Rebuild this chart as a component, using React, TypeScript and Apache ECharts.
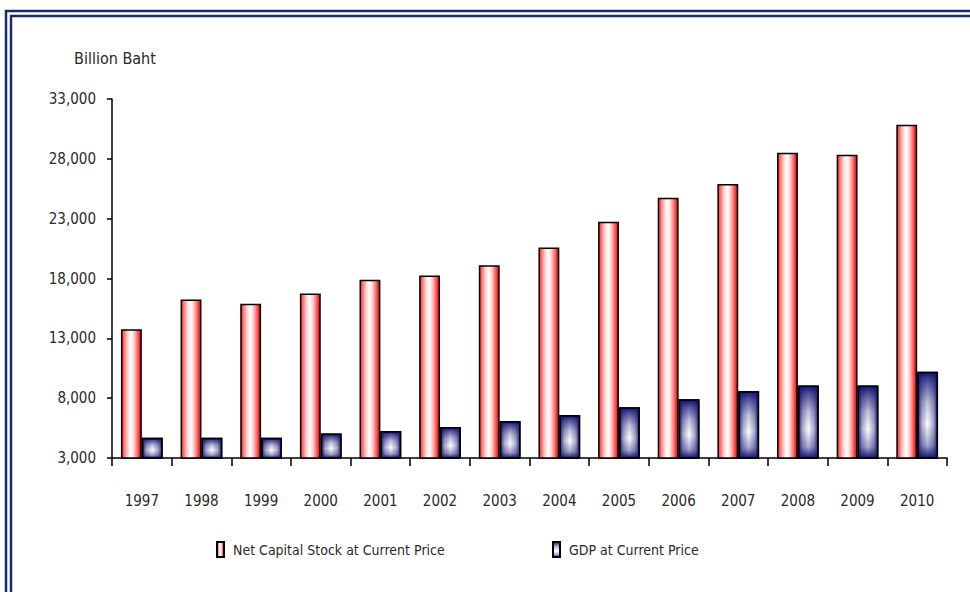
import React, { useEffect, useRef } from "react";
import * as echarts from "echarts";

const years = ["1997","1998","1999","2000","2001","2002","2003","2004","2005","2006","2007","2008","2009","2010"];
const netCapitalStock = [13750, 16250, 15900, 16750, 17900, 18250, 19100, 20600, 22750, 24750, 25900, 28500, 28350, 30850];
const gdp = [4700, 4700, 4700, 5050, 5250, 5600, 6100, 6600, 7250, 7900, 8600, 9050, 9050, 10200];
const yMin = 3000;
const yMax = 33000;
const yStep = 5000;
const unitLabel = "Billion Baht";
const seriesNames = ["Net Capital Stock at Current Price", "GDP at Current Price"];

const FONT = "'DejaVu Sans Condensed', 'Liberation Sans Narrow', sans-serif";
const NAVY = "#1b2a6b";

export default function App() {
  const ref = useRef<HTMLDivElement>(null);
  useEffect(() => {
    if (!ref.current) return;
    const chart = echarts.init(ref.current, null, { renderer: "svg" });
    const redGrad = new echarts.graphic.LinearGradient(0, 0, 1, 0, [
      { offset: 0, color: "#ff2a2a" },
      { offset: 0.15, color: "#ff8080" },
      { offset: 0.33, color: "#ffdcdc" },
      { offset: 0.48, color: "#ffffff" },
      { offset: 0.62, color: "#ffd6d6" },
      { offset: 0.8, color: "#ff7070" },
      { offset: 1, color: "#dd0000" },
    ]);
    const blueGrad = new echarts.graphic.LinearGradient(0, 0, 0, 1, [
      { offset: 0, color: "#14147a" },
      { offset: 0.12, color: "#5a5a9e" },
      { offset: 0.35, color: "#c4c4dc" },
      { offset: 0.6, color: "#ffffff" },
      { offset: 0.85, color: "#a8a8cc" },
      { offset: 1, color: "#14147a" },
    ]);
    const blueOverlay = new echarts.graphic.LinearGradient(0, 0, 1, 0, [
      { offset: 0, color: "rgba(16,16,112,0.9)" },
      { offset: 0.2, color: "rgba(16,16,112,0.35)" },
      { offset: 0.5, color: "rgba(16,16,112,0)" },
      { offset: 0.8, color: "rgba(16,16,112,0.35)" },
      { offset: 1, color: "rgba(16,16,112,0.9)" },
    ]);
    const axisText = { fontFamily: FONT, fontSize: 15, color: "#2a2a2a" };
    const legendText = { fontFamily: FONT, fontSize: 14, color: "#2a2a2a" };
    chart.setOption({
      animation: false,
      backgroundColor: "#ffffff",
      textStyle: { fontFamily: FONT },
      graphic: [
        { type: "rect", shape: { x: 6, y: 11, width: 1200, height: 1200 }, style: { fill: "none", stroke: NAVY, lineWidth: 2.5 }, silent: true },
        { type: "rect", shape: { x: 11, y: 16, width: 1200, height: 1200 }, style: { fill: "none", stroke: NAVY, lineWidth: 2.5 }, silent: true },
        { type: "text", left: 74, top: 50, style: { text: unitLabel, fontFamily: FONT, fontSize: 16, fill: "#2a2a2a" } },
      ],
      legend: [
        {
          data: [seriesNames[0]], left: 216, top: 541, padding: 0, icon: "rect", itemWidth: 7, itemHeight: 15,
          textStyle: { ...legendText, padding: [0, 0, 0, 4] }, selectedMode: false,
        },
        {
          data: [seriesNames[1]], left: 552, top: 541, padding: 0, icon: "rect", itemWidth: 7, itemHeight: 15,
          textStyle: { ...legendText, padding: [0, 0, 0, 4] }, selectedMode: false,
        },
      ],
      grid: { left: 112, right: 23, top: 99, bottom: 134, containLabel: false },
      xAxis: [
        {
          type: "category", data: years, boundaryGap: true,
          axisLine: { lineStyle: { color: "#000", width: 1.5 } },
          axisTick: { show: true, length: 8, inside: false, lineStyle: { color: "#000", width: 1.5 } },
          axisLabel: { ...axisText, margin: 35 },
        },
        { type: "category", data: years, show: false },
      ],
      yAxis: {
        type: "value", min: yMin, max: yMax, interval: yStep,
        axisLine: { show: true, lineStyle: { color: "#000", width: 1.5 } },
        axisTick: { show: true, length: 5, lineStyle: { color: "#000", width: 1.5 } },
        splitLine: { show: false },
        axisLabel: {
          ...axisText, margin: 16,
          formatter: (v: number) => v.toLocaleString("en-US"),
        },
      },
      series: [
        {
          name: seriesNames[0], type: "bar", xAxisIndex: 0, data: netCapitalStock,
          barGap: "0%", barCategoryGap: "30%",
          itemStyle: { color: redGrad, borderColor: "#000", borderWidth: 1.5 },
        },
        {
          name: seriesNames[1], type: "bar", xAxisIndex: 0, data: gdp,
          barGap: "0%", barCategoryGap: "30%",
          itemStyle: { color: blueGrad, borderColor: "#000", borderWidth: 1.5 },
        },
        {
          name: "placeholder", type: "bar", xAxisIndex: 1, data: years.map(() => "-"),
          barGap: "0%", barCategoryGap: "30%", silent: true,
          itemStyle: { color: "transparent" },
        },
        {
          name: "overlay", type: "bar", xAxisIndex: 1, data: gdp,
          barGap: "0%", barCategoryGap: "30%", silent: true,
          itemStyle: { color: blueOverlay, borderColor: "#000", borderWidth: 1.5 },
        },
      ],
    });
    return () => chart.dispose();
  }, []);
  return (
    <div
      ref={ref}
      style={{ position: "fixed", left: 0, top: 0, width: 970, height: 592 }}
    />
  );
}
